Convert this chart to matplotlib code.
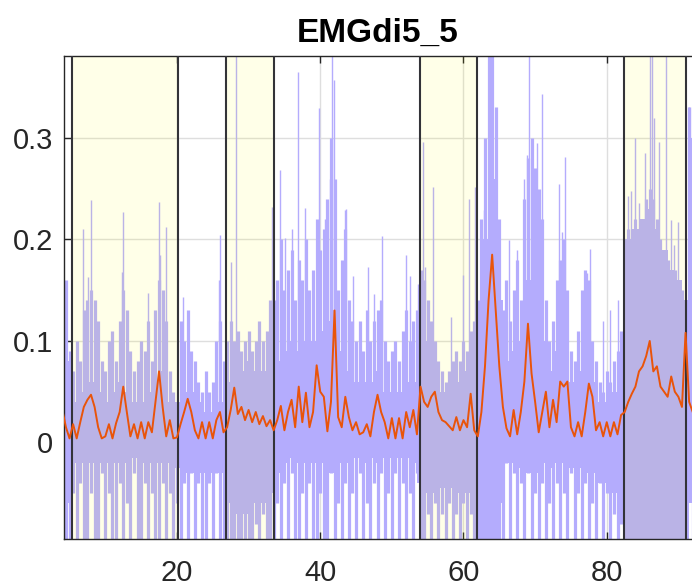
import numpy as np
import matplotlib.pyplot as plt

plt.rcParams['font.family'] = ['Liberation Sans', 'DejaVu Sans']

# raw EMG trace, one stroke every 0.5 s starting at t=4 (upper / lower reach)
t0, dt = 4.0, 0.5
emg_hi = [
    0.16, 0.16, 0.09, 0.07, 0.10, 0.08, 0.13, 0.14, 0.15, 0.14,
    0.12, 0.08, 0.07, 0.10, 0.11, 0.08, 0.12, 0.15, 0.13, 0.09,
    0.07, 0.08, 0.10, 0.09, 0.12, 0.08, 0.13, 0.16, 0.15, 0.12,
    0.07, 0.05, 0.04, 0.12, 0.10, 0.13, 0.09, 0.08, 0.06, 0.05,
    0.07, 0.05, 0.06, 0.10, 0.12, 0.08, 0.10, 0.12, 0.10, 0.11,
    0.09, 0.10, 0.11, 0.09, 0.10, 0.12, 0.10, 0.11, 0.14, 0.14,
    0.16, 0.20, 0.15, 0.17, 0.19, 0.14, 0.18, 0.16, 0.20, 0.15,
    0.17, 0.22, 0.19, 0.21, 0.24, 0.30, 0.26, 0.15, 0.18, 0.21,
    0.14, 0.12, 0.10, 0.12, 0.09, 0.13, 0.10, 0.12, 0.13, 0.14,
    0.10, 0.08, 0.09, 0.10, 0.08, 0.11, 0.13, 0.10, 0.12, 0.13,
    0.17, 0.16, 0.14, 0.12, 0.10, 0.08, 0.07, 0.06, 0.07, 0.08,
    0.09, 0.08, 0.10, 0.09, 0.11, 0.12, 0.14, 0.22, 0.30, 0.40,
    0.40, 0.33, 0.22, 0.13, 0.16, 0.12, 0.15, 0.18, 0.14, 0.24,
    0.28, 0.30, 0.27, 0.25, 0.22, 0.14, 0.10, 0.12, 0.16, 0.18,
    0.20, 0.15, 0.09, 0.08, 0.11, 0.15, 0.17, 0.16, 0.10, 0.08,
    0.06, 0.05, 0.07, 0.06, 0.08, 0.09, 0.11, 0.20, 0.21, 0.21,
    0.22, 0.20, 0.22, 0.24, 0.25, 0.24, 0.22, 0.20, 0.19, 0.18,
    0.17, 0.17, 0.16, 0.15, 0.14, 0.33, 0.33,
]
D = -0.12  # runs past the bottom of the axes
emg_lo = [
    D, D, D, -0.05, D, -0.04, D, D, -0.05, D,
    D, -0.03, D, -0.05, D, D, -0.04, D, -0.06, D,
    -0.03, D, D, -0.04, D, -0.05, D, D, -0.04, D,
    -0.05, D, -0.06, D, -0.04, D, -0.03, D, -0.04, D,
    D, -0.04, D, -0.03, D, D, D, D, D, D,
    D, D, D, D, -0.08, D, -0.07, D, D, D,
    -0.06, D, -0.04, D, -0.03, D, D, -0.05, D, -0.04,
    D, D, -0.05, D, D, -0.03, D, -0.06, D, -0.04,
    D, -0.05, D, -0.03, D, -0.06, D, -0.04, D, -0.03,
    D, -0.05, D, -0.03, D, -0.04, D, -0.05, D, -0.03,
    D, D, -0.07, D, -0.06, D, -0.07, D, -0.06, D,
    -0.07, D, -0.06, D, -0.07, D, D, D, D, D,
    D, D, D, D, -0.02, D, -0.03, D, -0.04, D,
    -0.03, D, -0.05, D, -0.04, D, -0.06, D, -0.04, D,
    -0.05, D, -0.03, D, -0.05, D, -0.04, D, -0.06, D,
    -0.04, D, -0.05, D, -0.07, D, -0.08, D, D, D,
    D, D, D, D, D, D, D, D, D, D,
    D, D, D, D, D, -0.05, D,
]

# solidly filled part of the raw trace, one value per second from t=4
core_hi = [
    0.14, 0.08, 0.04, 0.05, 0.06, 0.05, 0.04, 0.05, 0.06, 0.05,
    0.04, 0.04, 0.05, 0.06, 0.07, 0.04, 0.04, 0.05, 0.05, 0.04,
    0.03, 0.03, 0.04, 0.06, 0.07, 0.07, 0.08, 0.07, 0.07, 0.08,
    0.08, 0.09, 0.10, 0.09, 0.10, 0.10, 0.11, 0.12, 0.13, 0.09,
    0.07, 0.06, 0.06, 0.06, 0.07, 0.05, 0.05, 0.05, 0.06, 0.06,
    0.12, 0.10, 0.07, 0.05, 0.05, 0.06, 0.07, 0.08, 0.10, 0.20,
    0.26, 0.14, 0.08, 0.09, 0.10, 0.16, 0.15, 0.10, 0.07, 0.09,
    0.10, 0.06, 0.07, 0.09, 0.06, 0.04, 0.04, 0.05, 0.06, 0.20,
    0.21, 0.22, 0.23, 0.21, 0.19, 0.17, 0.16, 0.14, 0.30,
]
core_lo = [
    -0.12, -0.06, -0.02, -0.02, -0.02, -0.02, -0.02, -0.02, -0.02, -0.02,
    -0.015, -0.02, -0.02, -0.02, -0.02, -0.02, -0.025, -0.03, -0.03, -0.03,
    -0.03, -0.03, -0.03, -0.06, -0.07, -0.07, -0.07, -0.06, -0.06, -0.05,
    -0.03, -0.02, -0.015, -0.02, -0.02, -0.02, -0.02, -0.03, -0.03, -0.02,
    -0.02, -0.015, -0.02, -0.015, -0.02, -0.015, -0.015, -0.015, -0.015, -0.02,
    -0.04, -0.05, -0.05, -0.045, -0.045, -0.05, -0.05, -0.05, -0.06, -0.12,
    -0.12, -0.06, -0.02, -0.02, -0.025, -0.03, -0.03, -0.02, -0.025, -0.02,
    -0.02, -0.025, -0.025, -0.03, -0.03, -0.04, -0.04, -0.05, -0.06, -0.12,
    -0.12, -0.12, -0.12, -0.12, -0.12, -0.12, -0.12, -0.12, -0.06,
]

# thin tall spikes of the raw trace
spike_t = [6.9, 7.6, 8.0, 12.3, 12.5, 15.9, 17.5, 17.7, 18.4, 20.8,
           25.8, 26.0, 27.6, 28.3, 33.2, 34.4, 35.1, 36.0, 36.9, 37.9,
           39.8, 40.6, 41.3, 41.7, 41.9, 43.4, 43.6, 44.6, 46.7, 47.5,
           48.6, 52.0, 52.6, 53.6, 54.4, 54.6, 55.8, 58.3, 59.9, 60.8,
           61.6, 62.8, 66.4, 67.4, 68.5, 68.9, 69.1, 70.2, 70.9, 73.3,
           73.7, 74.2, 77.3, 77.6, 79.5, 80.5, 81.5, 82.9, 83.4, 83.9,
           84.5, 85.4, 86.0, 86.3, 86.6, 87.3, 88.3, 89.0, 89.4, 89.9,
           91.5]
spike_h = [0.21, 0.163, 0.239, 0.168, 0.227, 0.147, 0.237, 0.185, 0.212, 0.143,
           0.16, 0.204, 0.178, 0.40, 0.232, 0.268, 0.201, 0.21, 0.365, 0.231,
           0.329, 0.22, 0.26, 0.40, 0.357, 0.229, 0.23, 0.164, 0.173, 0.146,
           0.203, 0.185, 0.164, 0.156, 0.296, 0.173, 0.252, 0.124, 0.165, 0.24,
           0.252, 0.229, 0.199, 0.19, 0.26, 0.283, 0.40, 0.295, 0.343, 0.255,
           0.207, 0.281, 0.167, 0.191, 0.12, 0.13, 0.14, 0.243, 0.248, 0.30,
           0.236, 0.285, 0.40, 0.40, 0.32, 0.296, 0.40, 0.219, 0.195, 0.217,
           0.33]

# smoothed envelope, every 0.5 s from t=4
rms = [
    0.032, 0.015, 0.004, 0.018, 0.004, 0.020, 0.035, 0.042, 0.047, 0.035,
    0.015, 0.004, 0.006, 0.018, 0.004, 0.019, 0.030, 0.055, 0.030, 0.006,
    0.018, 0.004, 0.020, 0.004, 0.020, 0.010, 0.040, 0.070, 0.035, 0.006,
    0.022, 0.004, 0.005, 0.018, 0.030, 0.043, 0.030, 0.012, 0.004, 0.020,
    0.004, 0.020, 0.004, 0.022, 0.030, 0.010, 0.015, 0.032, 0.054, 0.028,
    0.035, 0.022, 0.032, 0.020, 0.030, 0.018, 0.026, 0.016, 0.022, 0.012,
    0.022, 0.036, 0.012, 0.030, 0.042, 0.015, 0.055, 0.020, 0.049, 0.015,
    0.030, 0.076, 0.050, 0.045, 0.011, 0.040, 0.130, 0.025, 0.015, 0.045,
    0.025, 0.012, 0.020, 0.008, 0.010, 0.018, 0.006, 0.030, 0.047, 0.030,
    0.020, 0.004, 0.024, 0.004, 0.024, 0.004, 0.030, 0.015, 0.032, 0.008,
    0.055, 0.040, 0.035, 0.045, 0.050, 0.030, 0.022, 0.020, 0.016, 0.012,
    0.025, 0.012, 0.022, 0.015, 0.048, 0.012, 0.006, 0.030, 0.075, 0.140,
    0.185, 0.130, 0.075, 0.035, 0.014, 0.006, 0.032, 0.008, 0.030, 0.060,
    0.117, 0.068, 0.040, 0.010, 0.030, 0.050, 0.015, 0.042, 0.020, 0.060,
    0.055, 0.060, 0.015, 0.006, 0.020, 0.006, 0.030, 0.058, 0.045, 0.012,
    0.020, 0.006, 0.020, 0.006, 0.020, 0.008, 0.027, 0.030, 0.040, 0.048,
    0.055, 0.070, 0.075, 0.085, 0.100, 0.070, 0.075, 0.055, 0.050, 0.045,
    0.065, 0.050, 0.045, 0.035, 0.108, 0.040, 0.030,
]

# phase boundaries (s); shaded phases lie between consecutive pairs
bounds = [5.31, 20.18, 26.84, 33.53, 53.9, 61.82, 82.41, 91.12]

purple = '#b4acfd'
orange = '#e9540a'
ink = '#262626'


def main():
    t = t0 + dt * np.arange(len(emg_hi))
    tc = t0 + np.arange(len(core_hi))

    fig = plt.figure(figsize=(6.92, 5.88), dpi=100)
    ax = fig.add_axes([64 / 692, 48.7 / 588, 628 / 692, 483.6 / 588])

    ax.fill_between(tc, core_lo, core_hi, step='mid', color=purple, lw=0, zorder=1)
    ax.vlines(t, 0, emg_hi, color=purple, lw=2.3, zorder=1)
    ax.vlines(t, emg_lo, 0, color=purple, lw=2.3, zorder=1)
    ax.vlines(spike_t, 0, spike_h, color=purple, lw=1.0, zorder=1)

    for a, b in zip(bounds[::2], bounds[1::2]):
        ax.axvspan(a, b, color=(1, 1, 0), alpha=0.09, lw=0, zorder=2)
    for b in bounds:
        ax.axvline(b, color='#333338', lw=1.5, zorder=3)

    ax.plot(t, rms, color=orange, lw=1.4, zorder=4)

    ax.set_xlim(4.23, 91.9)
    ax.set_ylim(-0.0954, 0.381)
    ax.set_xticks([20, 40, 60, 80])
    ax.set_yticks([0, 0.1, 0.2, 0.3])
    ax.set_yticklabels(['0', '0.1', '0.2', '0.3'])
    ax.grid(True, color='#dedede', lw=1.0)
    ax.set_axisbelow(True)

    ax.tick_params(axis='both', direction='in', length=5, width=1.0,
                   colors=ink, labelsize=21, top=True)
    ax.tick_params(axis='x', pad=14.5)
    ax.tick_params(axis='y', pad=8)
    for s in ['left', 'bottom', 'top']:
        ax.spines[s].set_color(ink)
        ax.spines[s].set_linewidth(1.0)
    ax.spines['right'].set_visible(False)

    ax.set_title('EMGdi5_5', fontsize=24, fontweight='bold', pad=10)

    fig.savefig('out.png', dpi=100)


if __name__ == '__main__':
    main()
